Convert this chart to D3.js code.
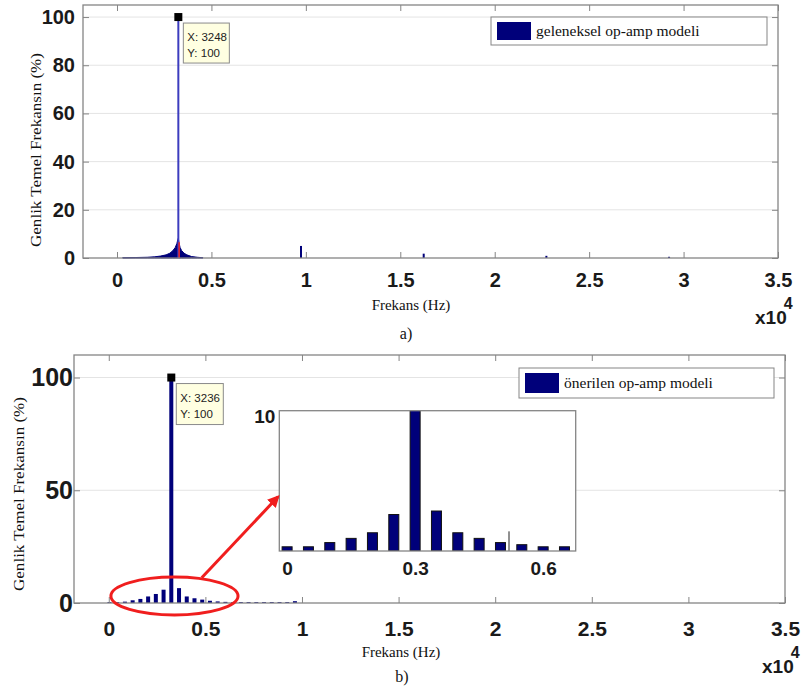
<!DOCTYPE html>
<html>
<head>
<meta charset="utf-8">
<script src="https://cdn.jsdelivr.net/npm/d3@7"></script>
<style>
  body { margin: 0; background: #fff; }
  svg { display: block; }
</style>
</head>
<body>
<div id="chart"></div>
<script>
// a) geleneksel op-amp modeli
const topSkirtHz  = [300, 1000, 1600, 2000, 2300, 2600, 2800, 2950, 3080, 3170, 3220, 3248, 3280, 3340, 3420, 3550, 3700, 3950, 4250, 4550];
const topSkirtPct = [0.1, 0.2, 0.3, 0.5, 0.8, 1.3, 2.0, 3.0, 4.3, 6.0, 7.6, 8.2, 6.5, 4.4, 3.1, 2.0, 1.3, 0.6, 0.3, 0.1];
const topStemHz   = [3248, 9744, 16240, 22736, 29232];
const topStemPct  = [100, 5, 1.8, 0.9, 0.5];
const topRedHz    = [3290];
const topRedPct   = [6.5];
const topTip      = { hz: 3248, pct: 100 };

// b) önerilen op-amp modeli
const botHz  = [36, 436, 836, 1236, 1636, 2036, 2436, 2836, 3236, 3636, 4036, 4436, 4836,
                5236, 5636, 6036, 6436, 6836, 7236, 7636, 8036, 8436, 8836, 9236, 9636];
const botPct = [0.4, 0.4, 0.6, 1.2, 1.8, 2.9, 4.0, 5.9, 100, 6.6, 2.9, 2.1, 1.5,
                1.0, 0.7, 0.5, 0.4, 0.4, 0.4, 0.4, 0.4, 0.4, 0.4, 0.4, 0.8];
const botTip = { hz: 3236, pct: 100 };

// inset (zoom of b)
const insetPos  = [0, 0.05, 0.1, 0.15, 0.2, 0.25, 0.3, 0.35, 0.4, 0.45, 0.5, 0.55, 0.6, 0.65];
const insetPct  = [0.3, 0.3, 0.6, 0.9, 1.3, 2.6, 100, 2.85, 1.3, 0.9, 0.6, 0.45, 0.3, 0.3];
const insetStemPos = [0.52];
const insetStemPct = [1.4];
const insetXTicks = [0, 0.3, 0.6];
const insetYTicks = [10];

// callout: ellipse around the sidebands + arrow to the inset
const calloutHz = 3400, calloutPct = 3.1, calloutRxHz = 3290, calloutRyPct = 8.4;
const arrowFrom = [4810, 11.2], arrowTo = [8758, 47.1];

const xTicks = [0, 5000, 10000, 15000, 20000, 25000, 30000, 35000];
const topYTicks = [0, 20, 40, 60, 80, 100];
const botYTicks = [0, 50, 100];

const navy = '#00007a', blue = '#3c3cbe', red = '#f01e1e', frameCol = '#858585';
const sans = "'Liberation Sans', Arial, sans-serif";
const serif = "'Liberation Serif', 'Times New Roman', serif";

const svg = d3.select('#chart').append('svg')
  .attr('width', 802)
  .attr('height', 689);

svg.append('defs').append('marker')
  .attr('id', 'arrow')
  .attr('viewBox', '0 0 10 10')
  .attr('refX', 8).attr('refY', 5)
  .attr('markerWidth', 4).attr('markerHeight', 4)
  .attr('orient', 'auto')
  .append('path').attr('d', 'M0,0L10,5L0,10z').attr('fill', red);

const xT = d3.scaleLinear().domain([-1800, 35000]).range([83, 778]);
const yT = d3.scaleLinear().domain([0, 105]).range([258, 5]);
const xB = d3.scaleLinear().domain([-1800, 35000]).range([74, 785]);
const yB = d3.scaleLinear().domain([0, 110]).range([603, 355]);

function grid(x, y, ticks) {
  const [x0, x1] = x.range();
  svg.append('g').selectAll('line')
    .data(ticks.filter(d => d > 0))
    .join('line')
    .attr('x1', x0).attr('x2', x1)
    .attr('y1', d => y(d)).attr('y2', d => y(d))
    .attr('stroke', '#e4e4e4');
}

function frame(x, y, yTicks, o) {
  const [x0, x1] = x.range(), [y0, y1] = y.range();
  const style = g => {
    g.select('.domain').remove();
    g.selectAll('.tick line').attr('stroke', frameCol);
    g.selectAll('.tick text')
      .attr('fill', '#1a1a1a')
      .style('font-family', sans)
      .style('font-weight', 'bold');
  };
  svg.append('g').attr('transform', `translate(0,${y0})`)
    .call(d3.axisBottom(x).tickValues(xTicks).tickFormat(d => d / 1e4)
      .tickSizeInner(-6).tickSizeOuter(0).tickPadding(o.padX))
    .call(style)
    .call(g => g.selectAll('text').style('font-size', o.fx + 'px'));
  svg.append('g').attr('transform', `translate(0,${y1})`)
    .call(d3.axisTop(x).tickValues(xTicks).tickFormat('').tickSizeInner(-6).tickSizeOuter(0))
    .call(style);
  svg.append('g').attr('transform', `translate(${x0},0)`)
    .call(d3.axisLeft(y).tickValues(yTicks).tickSizeInner(-6).tickSizeOuter(0).tickPadding(o.padY))
    .call(style)
    .call(g => g.selectAll('text').style('font-size', o.fy + 'px'));
  svg.append('g').attr('transform', `translate(${x1},0)`)
    .call(d3.axisRight(y).tickValues(yTicks).tickFormat('').tickSizeInner(-6).tickSizeOuter(0))
    .call(style);
  svg.append('rect')
    .attr('x', x0).attr('y', y1)
    .attr('width', x1 - x0).attr('height', y0 - y1)
    .attr('fill', 'none').attr('stroke', frameCol).attr('stroke-width', 1.3);
}

function dataTip(x, y, tip, w, h) {
  const px = x(tip.hz), py = y(tip.pct);
  svg.append('rect')
    .attr('x', px + 5).attr('y', py + 6)
    .attr('width', w).attr('height', h)
    .attr('fill', '#ffffe1').attr('stroke', '#8a8a8a');
  const t = svg.append('text')
    .attr('x', px + 9).attr('y', py + 6)
    .attr('fill', '#222')
    .style('font-family', sans)
    .style('font-size', '11.5px');
  t.append('tspan').attr('x', px + 9).attr('dy', 18).text(`X: ${tip.hz}`);
  t.append('tspan').attr('x', px + 9).attr('dy', 16).text(`Y: ${tip.pct}`);
  svg.append('rect')
    .attr('x', px - 4).attr('y', py - 4)
    .attr('width', 8).attr('height', 8)
    .attr('fill', '#000');
}

function legend(x, y, w, h, label) {
  svg.append('rect').attr('x', x).attr('y', y).attr('width', w).attr('height', h)
    .attr('fill', '#fff').attr('stroke', frameCol);
  svg.append('rect').attr('x', x + 6).attr('y', y + 5).attr('width', 34).attr('height', h - 10)
    .attr('fill', navy);
  svg.append('text').attr('x', x + 45).attr('y', y + h / 2 + 5)
    .attr('fill', '#111')
    .style('font-family', serif).style('font-size', '15.5px')
    .text(label);
}

function texts(yLabelPos, xLabelPos, tagPos, tag, expPos) {
  svg.append('text')
    .attr('transform', `translate(${yLabelPos[0]},${yLabelPos[1]}) rotate(-90)`)
    .attr('text-anchor', 'middle').attr('dy', '0.35em')
    .attr('textLength', 194).attr('lengthAdjust', 'spacingAndGlyphs')
    .attr('fill', '#111')
    .style('font-family', serif).style('font-size', '14px')
    .text('Genlik Temel Frekansın (%)');
  svg.append('text')
    .attr('x', xLabelPos[0]).attr('y', xLabelPos[1])
    .attr('text-anchor', 'middle').attr('dy', '0.35em')
    .attr('fill', '#111')
    .style('font-family', serif).style('font-size', '15px')
    .text('Frekans (Hz)');
  svg.append('text')
    .attr('x', tagPos[0]).attr('y', tagPos[1])
    .attr('text-anchor', 'middle').attr('dy', '0.35em')
    .attr('fill', '#111')
    .style('font-family', serif).style('font-size', '16px')
    .text(tag);
  // axis multiplier: x10 with superscript 4, one text element
  const e = svg.append('text')
    .attr('x', expPos[0]).attr('y', expPos[1])
    .attr('fill', '#1a1a1a')
    .style('font-family', sans).style('font-weight', 'bold').style('font-size', '19px');
  e.append('tspan').text('x10');
  e.append('tspan').attr('dx', -3).attr('dy', -15).style('font-size', '16px').text('4');
}

// ---------- panel a ----------
grid(xT, yT, topYTicks);

const skirt = topSkirtHz.map((h, i) => [h, topSkirtPct[i]]);
svg.append('path')
  .datum(skirt)
  .attr('fill', navy)
  .attr('stroke', navy)
  .attr('stroke-width', 1)
  .attr('d', d3.area().x(d => xT(d[0])).y0(yT(0)).y1(d => yT(d[1])));

svg.append('g').selectAll('line')
  .data(topStemHz.map((h, i) => [h, topStemPct[i]]))
  .join('line')
  .attr('x1', d => xT(d[0])).attr('x2', d => xT(d[0]))
  .attr('y1', yT(0)).attr('y2', d => yT(d[1]))
  .attr('stroke', (d, i) => i === 0 ? blue : navy)
  .attr('stroke-width', 2);

svg.append('g').selectAll('line')
  .data(topRedHz.map((h, i) => [h, topRedPct[i]]))
  .join('line')
  .attr('x1', d => xT(d[0])).attr('x2', d => xT(d[0]))
  .attr('y1', yT(0)).attr('y2', d => yT(d[1]))
  .attr('stroke', '#e8262b')
  .attr('stroke-width', 1.6);

frame(xT, yT, topYTicks, { fx: 20, fy: 20, padX: 15, padY: 8 });
dataTip(xT, yT, topTip, 46, 40);
legend(491, 17, 276, 28, 'geleneksel op-amp modeli');
texts([36, 150], [411, 305], [406, 333], 'a)', [755, 324]);

// ---------- panel b ----------
grid(xB, yB, botYTicks);

svg.append('g').selectAll('rect')
  .data(botHz.map((h, i) => [h, botPct[i]]))
  .join('rect')
  .attr('x', d => xB(d[0]) - 2)
  .attr('width', 4)
  .attr('y', d => yB(d[1]))
  .attr('height', d => yB(0) - yB(d[1]))
  .attr('fill', navy);

frame(xB, yB, botYTicks, { fx: 21, fy: 25, padX: 18, padY: 1 });
dataTip(xB, yB, botTip, 47, 41);
legend(519, 368, 255, 30, 'önerilen op-amp modeli');
texts([19, 494], [401, 652], [402, 676], 'b)', [762, 673]);

// ---------- inset ----------
const xI = d3.scaleLinear().domain([-0.0183, 0.6763]).range([279.3, 575.7]);
const yI = d3.scaleLinear().domain([0, 10]).range([551, 410.7]);

svg.append('clipPath').attr('id', 'insetClip')
  .append('rect')
  .attr('x', xI.range()[0]).attr('y', yI.range()[1])
  .attr('width', xI.range()[1] - xI.range()[0])
  .attr('height', yI.range()[0] - yI.range()[1]);

svg.append('rect')
  .attr('x', xI.range()[0]).attr('y', yI.range()[1])
  .attr('width', xI.range()[1] - xI.range()[0])
  .attr('height', yI.range()[0] - yI.range()[1])
  .attr('fill', '#fff');

const inset = svg.append('g').attr('clip-path', 'url(#insetClip)');
inset.selectAll('rect')
  .data(insetPos.map((p, i) => [p, insetPct[i]]))
  .join('rect')
  .attr('x', d => xI(d[0]) - 5)
  .attr('width', 10)
  .attr('y', d => yI(d[1]))
  .attr('height', d => yI(0) - yI(d[1]))
  .attr('fill', navy)
  .attr('stroke', '#111')
  .attr('stroke-width', 1);
inset.selectAll('line')
  .data(insetStemPos.map((p, i) => [p, insetStemPct[i]]))
  .join('line')
  .attr('x1', d => xI(d[0])).attr('x2', d => xI(d[0]))
  .attr('y1', yI(0)).attr('y2', d => yI(d[1]))
  .attr('stroke', '#222').attr('stroke-width', 1);

svg.append('rect')
  .attr('x', xI.range()[0]).attr('y', yI.range()[1])
  .attr('width', xI.range()[1] - xI.range()[0])
  .attr('height', yI.range()[0] - yI.range()[1])
  .attr('fill', 'none').attr('stroke', frameCol).attr('stroke-width', 1.3);

svg.append('g').attr('transform', `translate(0,${yI.range()[0]})`)
  .call(d3.axisBottom(xI).tickValues(insetXTicks).tickFormat(d3.format('')).tickSize(0).tickPadding(11))
  .call(g => g.select('.domain').remove())
  .call(g => g.selectAll('text').attr('fill', '#1a1a1a')
    .style('font-family', sans).style('font-weight', 'bold').style('font-size', '19px'));
svg.append('g').attr('transform', `translate(${xI.range()[0]},0)`)
  .call(d3.axisLeft(yI).tickValues(insetYTicks).tickSize(0).tickPadding(4))
  .call(g => g.select('.domain').remove())
  .call(g => g.selectAll('text').attr('fill', '#1a1a1a').attr('dy', '0.62em')
    .style('font-family', sans).style('font-weight', 'bold').style('font-size', '19px'));

// ---------- callout ----------
svg.append('ellipse')
  .attr('cx', xB(calloutHz)).attr('cy', yB(calloutPct))
  .attr('rx', xB(calloutHz + calloutRxHz) - xB(calloutHz))
  .attr('ry', yB(0) - yB(calloutRyPct))
  .attr('fill', 'none').attr('stroke', red).attr('stroke-width', 3);

svg.append('line')
  .attr('x1', xB(arrowFrom[0])).attr('y1', yB(arrowFrom[1]))
  .attr('x2', xB(arrowTo[0])).attr('y2', yB(arrowTo[1]))
  .attr('stroke', red).attr('stroke-width', 3)
  .attr('marker-end', 'url(#arrow)');
</script>
</body>
</html>
